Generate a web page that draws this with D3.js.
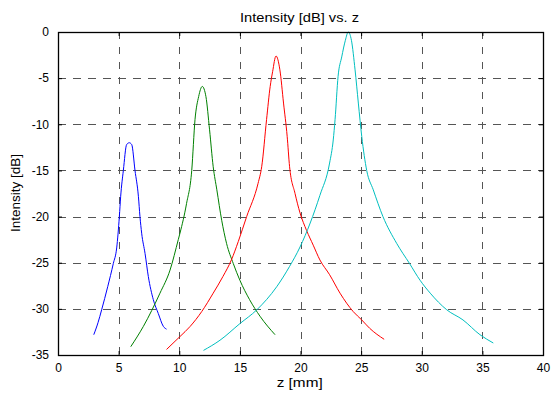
<!DOCTYPE html>
<html><head><meta charset="utf-8">
<script src="https://cdn.jsdelivr.net/npm/d3@7"></script>
<style>body{margin:0;background:#fff}svg{display:block}text{font-family:"Liberation Sans",Arial,sans-serif}</style>
</head><body><svg id="c" width="551" height="393"></svg>
<script>
const xTicks = [0,5,10,15,20,25,30,35,40];
const yTicks = [0,-5,-10,-15,-20,-25,-30,-35];
const seriesColors = ["#0000ff","#008000","#ff0000","#00bfbf"];
const blue = [[2.95,-32.8],[3.3,-31.5],[3.6,-30.1],[4.1,-27.6],[4.56,-25.1],[4.84,-23.4],[5.06,-20],[5.17,-17.8],[5.39,-15],[5.66,-12.2],[5.88,-12.0],[6.08,-12.2],[6.35,-15],[6.63,-17.8],[6.76,-20],[6.9,-21.8],[7.18,-24],[7.45,-26.5],[7.86,-29],[8.27,-30.5],[8.69,-31.9],[8.95,-32.2]];
const green = [[6.0,-34.1],[7.04,-31.9],[8.41,-28.3],[9.24,-25.8],[9.92,-22.5],[10.06,-21.8],[10.6,-18.6],[11.03,-15],[11.3,-9.5],[11.6,-7.0],[11.9,-5.9],[12.2,-7],[12.5,-10.6],[12.8,-14.6],[13.1,-17.1],[13.5,-20.4],[13.9,-22.9],[14.46,-25.1],[15.0,-26.9],[15.8,-29],[16.66,-30.8],[17.9,-32.8]];
const red = [[8.95,-34.4],[10.06,-33],[10.9,-31.9],[11.85,-30.3],[12.8,-28.3],[13.6,-26.5],[14.3,-24.7],[14.87,-22.7],[15.56,-20],[16.5,-16.4],[16.8,-14.6],[17.2,-9.5],[17.5,-5.9],[17.7,-4.3],[17.98,-2.6],[18.3,-4.1],[18.6,-7.7],[18.9,-11.3],[19.1,-14.6],[19.55,-17.5],[19.96,-19.6],[20.5,-21.5],[21.05,-23.1],[21.6,-24.7],[22.4,-26.3],[23.26,-28.3],[24.35,-30.3],[25.05,-31.2],[25.7,-32.1],[26.9,-33.3]];
const cyan = [[12.0,-34.5],[13.36,-33.4],[15.0,-31.6],[16.4,-30.1],[18.04,-27.6],[19.1,-25.4],[19.96,-23.3],[20.8,-20.7],[21.6,-17.7],[22.4,-14.2],[22.7,-11.7],[22.85,-9.5],[23.1,-4.8],[23.4,-2.7],[23.7,-0.9],[23.94,0],[24.2,-0.9],[24.5,-4.1],[24.77,-7.7],[25.05,-11.3],[25.46,-15],[26.0,-17.1],[26.8,-20],[27.93,-22.9],[29.0,-25.1],[29.86,-26.9],[30.7,-28.3],[32.06,-30.1],[33.4,-31.2],[34.8,-32.8],[35.9,-33.7]];
const series = [blue, green, red, cyan];

const svg = d3.select("#c");
const L=58, R=543, T=32, B=355;
const x = d3.scaleLinear().domain([0,40]).range([L,R]);
const y = d3.scaleLinear().domain([-35,0]).range([B,T]);
const fmt = d => String(d);

// grid
const g = svg.append("g");
xTicks.slice(1,-1).forEach(t=>g.append("line").attr("x1",Math.round(x(t))+0.5).attr("x2",Math.round(x(t))+0.5).attr("y1",T).attr("y2",B)
  .attr("stroke","#555").attr("stroke-dasharray","7,8").attr("stroke-width",1));
yTicks.slice(1,-1).forEach(t=>g.append("line").attr("y1",Math.round(y(t))+0.5).attr("y2",Math.round(y(t))+0.5).attr("x1",L).attr("x2",R)
  .attr("stroke","#555").attr("stroke-dasharray","8,7").attr("stroke-width",1));

// lines
const line = d3.line().curve(d3.curveMonotoneX).x(d=>x(d[0])).y(d=>y(d[1]));
series.forEach((s,i)=>svg.append("path").datum(s).attr("d",line).attr("fill","none").attr("stroke",seriesColors[i]).attr("stroke-width",1));

// axes
svg.append("g").attr("transform",`translate(0,${B})`).call(d3.axisBottom(x).tickValues(xTicks).tickFormat(fmt).tickSizeInner(-4).tickSizeOuter(0).tickPadding(8));
svg.append("g").attr("transform",`translate(${L},0)`).call(d3.axisLeft(y).tickValues(yTicks).tickFormat(fmt).tickSizeInner(-4).tickSizeOuter(0).tickPadding(9));
svg.append("g").attr("transform",`translate(0,${T})`).call(d3.axisTop(x).tickValues(xTicks).tickSizeInner(-4).tickSizeOuter(0).tickFormat(""));
svg.append("g").attr("transform",`translate(${R},0)`).call(d3.axisRight(y).tickValues(yTicks).tickSizeInner(-4).tickSizeOuter(0).tickFormat(""));
svg.selectAll(".domain").attr("stroke","#000");
svg.selectAll(".tick text").attr("font-size",12).attr("font-family","Liberation Sans, Arial, sans-serif").attr("fill","#000");
svg.append("rect").attr("x",L+0.5).attr("y",T+0.5).attr("width",R-L).attr("height",B-T).attr("fill","none").attr("stroke","#000").attr("stroke-width",1.3);

svg.append("text").attr("x",299.5).attr("y",22).attr("text-anchor","middle").attr("font-size",12.5)
  .attr("textLength",119).attr("lengthAdjust","spacingAndGlyphs").text("Intensity [dB] vs. z");
svg.append("text").attr("x",299.7).attr("y",387).attr("text-anchor","middle").attr("font-size",12.5)
  .attr("textLength",46).attr("lengthAdjust","spacingAndGlyphs").text("z [mm]");
svg.append("text").attr("transform",`translate(20,${193}) rotate(-90)`).attr("text-anchor","middle").attr("font-size",12)
  .attr("textLength",78).attr("lengthAdjust","spacingAndGlyphs").text("Intensity [dB]");
</script></body></html>
